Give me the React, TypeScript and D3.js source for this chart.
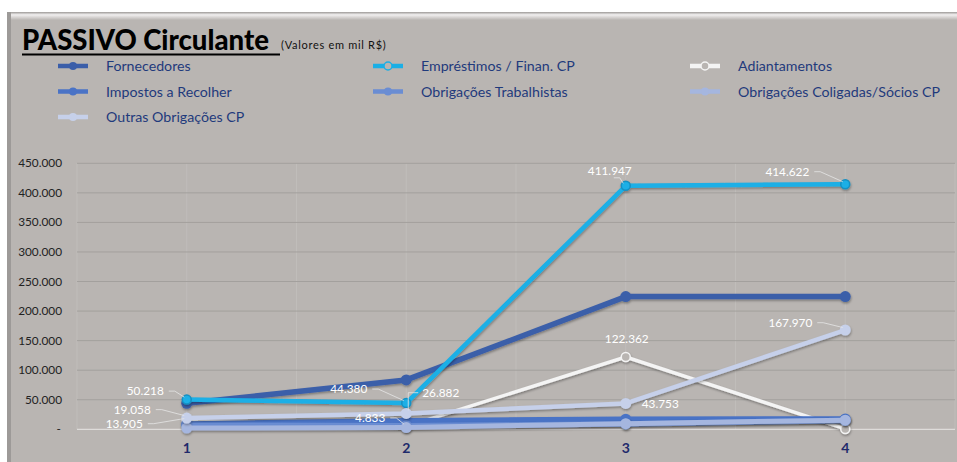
import React from 'react';
import * as d3 from 'd3';

const categories = ['1', '2', '3', '4'];
const seriesNames = [
  'Fornecedores',
  'Empréstimos / Finan. CP',
  'Adiantamentos',
  'Impostos a Recolher',
  'Obrigações Trabalhistas',
  'Obrigações Coligadas/Sócios CP',
  'Outras Obrigações CP',
];
const fornecedores = [44000, 83500, 224500, 224500];
const emprestimos = [50218, 44380, 411947, 414622];
const adiantamentos = [13905, 4833, 122362, 600];
const impostos = [9000, 14500, 17000, 17500];
const trabalhistas = [7000, 6000, 9000, 15000];
const coligadas = [2000, 3000, 9500, 15500];
const outras = [19058, 26882, 43753, 167970];
const yTicks = [0, 50000, 100000, 150000, 200000, 250000, 300000, 350000, 400000, 450000];

const seriesValues = [fornecedores, emprestimos, adiantamentos, impostos, trabalhistas, coligadas, outras];
const seriesColors = ['#3b5ea9', '#1aafe6', '#f4f4f4', '#4a73c6', '#6a8dd3', '#a5b6df', '#c6d0ea'];
const seriesWidths = [5.5, 4.5, 3.5, 5.5, 5.5, 5, 4.5];
const seriesHollow = [false, true, true, false, false, false, false];

// label placement (offsets relative to the point)
const labelSpecs = [
  { s: 1, i: 0, dx: -23, dy: -8.5, anchor: 'end', leader: true },
  { s: 1, i: 1, dx: -39, dy: -14, anchor: 'end', leader: true },
  { s: 1, i: 2, dx: -16, dy: -15, anchor: 'middle', leader: true },
  { s: 1, i: 3, dx: -36, dy: -12.5, anchor: 'end', leader: true },
  { s: 2, i: 0, dx: -44, dy: 2.6, anchor: 'end', leader: true },
  { s: 2, i: 1, dx: -21, dy: -8.5, anchor: 'end', leader: true },
  { s: 2, i: 2, dx: 1, dy: -18, anchor: 'middle', leader: false },
  { s: 6, i: 0, dx: -36, dy: -8.4, anchor: 'end', leader: true },
  { s: 6, i: 1, dx: 16, dy: -20.7, anchor: 'start', leader: true },
  { s: 6, i: 2, dx: 16, dy: 0.5, anchor: 'start', leader: false },
  { s: 6, i: 3, dx: -33, dy: -7.3, anchor: 'end', leader: true },
];

const W = 957;
const H = 462;
const plot = { left: 77, right: 955, top: 163.3, bottom: 429.3 };
const FONT = 'Lato, "Open Sans", sans-serif';

const ptLocale = d3.formatLocale({ decimal: ',', thousands: '.', grouping: [3], currency: ['R$', ''] });
const fmt = ptLocale.format(',.0f');

export default function App() {
  const x = d3.scalePoint<string>().domain(categories).range([plot.left, plot.right]).padding(0.5);
  const y = d3.scaleLinear().domain([0, 450000]).range([plot.bottom, plot.top]);
  const step = x.step();
  const line = d3
    .line<number>()
    .x((_, i) => x(categories[i]) as number)
    .y((d) => y(d));

  const vLines: number[] = [];
  for (let k = 0; k <= categories.length * 2; k++) vLines.push(plot.left + (k * step) / 2);

  const legendCols = [58, 373, 690];
  const legendRows = [66, 91.5, 117];

  return (
    <svg width={W} height={H} style={{ position: 'absolute', left: 0, top: 0 }} fontFamily={FONT}>
      <defs>
        <filter id="sh" x="-10%" y="-10%" width="120%" height="130%">
          <feDropShadow dx="0.5" dy="1.5" stdDeviation="1.2" floodColor="#000" floodOpacity="0.35" />
        </filter>
        <linearGradient id="topbev" x1="0" y1="0" x2="0" y2="1">
          <stop offset="0" stopColor="#9c9997" />
          <stop offset="0.35" stopColor="#f2f0f0" />
          <stop offset="1" stopColor="#b9b5b2" />
        </linearGradient>
      </defs>
      <rect x={0} y={0} width={W} height={H} fill="#ffffff" />
      <rect x={7} y={12} width={W - 7} height={H - 12} fill="#b9b5b2" />
      <rect x={7} y={12} width={W - 7} height={8} fill="url(#topbev)" />
      <rect x={7} y={12} width={4} height={H - 12} fill="#9d9a98" />

      {/* title */}
      <text x={22} y={50} fontSize={27.5} fontWeight={900} fill="#000">
        PASSIVO Circulante
      </text>
      <line x1={22} x2={280} y1={54.5} y2={54.5} stroke="#000" strokeWidth={2.2} />
      <text x={281} y={49} fontSize={11} fill="#111" letterSpacing={0.7}>
        (Valores em mil R$)
      </text>

      {/* legend */}
      {seriesNames.map((name, k) => {
        const cx = legendCols[k % 3];
        const cy = legendRows[Math.floor(k / 3)];
        return (
          <g key={name}>
            <line x1={cx} x2={cx + 30} y1={cy} y2={cy} stroke={seriesColors[k]} strokeWidth={4.5} />
            <circle
              cx={cx + 15}
              cy={cy}
              r={4}
              fill={seriesHollow[k] ? '#b9b5b2' : seriesColors[k]}
              stroke={seriesColors[k]}
              strokeWidth={seriesHollow[k] ? 1.5 : 0}
            />
            <text x={cx + 48} y={cy + 5} fontSize={14.2} fill="#1f3a7c">
              {name}
            </text>
          </g>
        );
      })}

      {/* gridlines */}
      {vLines.map((vx, k) => (
        <line key={'v' + k} x1={vx} x2={vx} y1={plot.top} y2={plot.bottom} stroke="#c0bdba" strokeWidth={1} />
      ))}
      {yTicks.map((t) => (
        <line
          key={'h' + t}
          x1={plot.left}
          x2={plot.right}
          y1={y(t)}
          y2={y(t)}
          stroke={t === 0 ? '#e8e6e4' : '#a3a09d'}
          strokeWidth={1}
        />
      ))}
      {yTicks.map((t) => (
        <text key={'yt' + t} x={t === 0 ? 61 : 62} y={y(t) + 4} fontSize={11.8} textAnchor="end" fill="#222">
          {t === 0 ? '-' : fmt(t)}
        </text>
      ))}
      {categories.map((c) => (
        <text key={'xt' + c} x={x(c)} y={453} fontSize={14} fontWeight={700} textAnchor="middle" fill="#1f2a6b">
          {c}
        </text>
      ))}

      {/* series */}
      {seriesValues.map((vals, k) => (
        <g key={'s' + k} filter="url(#sh)">
          <path d={line(vals) || ''} fill="none" stroke={seriesColors[k]} strokeWidth={seriesWidths[k]} strokeLinejoin="round" />
          {vals.map((v, i) => (
            <circle
              key={i}
              cx={x(categories[i])}
              cy={y(v)}
              r={seriesHollow[k] ? 4.5 : 5.5}
              fill={seriesHollow[k] ? (k === 1 ? '#1aafe6' : '#b9b5b2') : seriesColors[k]}
              stroke={k === 1 ? '#1590c2' : seriesColors[k]}
              strokeWidth={seriesHollow[k] ? 1.5 : 0}
            />
          ))}
        </g>
      ))}

      {/* data labels */}
      {labelSpecs.map((l, n) => {
        const v = seriesValues[l.s][l.i];
        const px = x(categories[l.i]) as number;
        const py = y(v);
        const tx = px + l.dx;
        const ty = py + l.dy;
        let leader: string | null = null;
        if (l.leader) {
          const sx = l.anchor === 'end' ? tx + 5 : l.anchor === 'start' ? tx - 4 : tx + 4;
          const sy = l.anchor === 'middle' ? ty + 7 : ty;
          const ex = px - 2.5;
          const ey = py - 2.5;
          if (l.anchor === 'start') {
            leader = `M${sx},${sy} L${px + 2},${sy} L${px + 2},${py - 3}`;
          } else {
            leader = `M${sx},${sy} L${sx + 6},${sy} L${ex},${ey}`;
          }
        }
        return (
          <g key={'l' + n}>
            {leader && <path d={leader} fill="none" stroke="#e6e6e6" strokeWidth={0.8} />}
            <text x={tx} y={ty + 4} fontSize={11.8} textAnchor={l.anchor as any} fill="#ffffff">
              {fmt(v)}
            </text>
          </g>
        );
      })}
    </svg>
  );
}
